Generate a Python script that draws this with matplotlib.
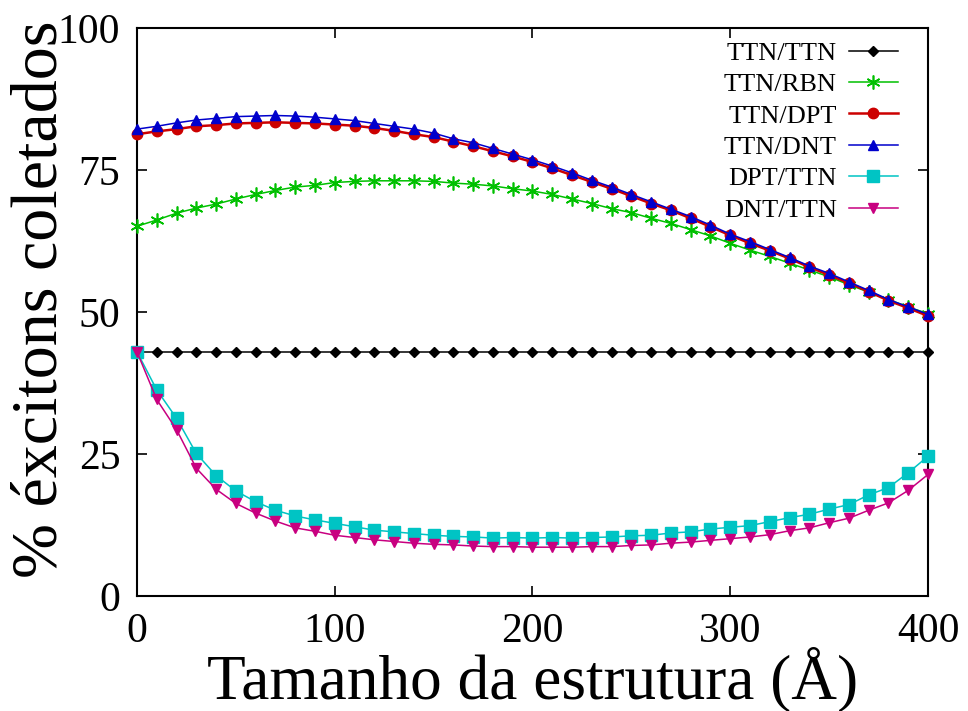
import matplotlib
matplotlib.use("Agg")
import matplotlib.pyplot as plt

# tamanho da estrutura (angstrom)
tamanho = [0, 10, 20, 30, 40, 50, 60, 70, 80, 90, 100, 110, 120, 130, 140, 150, 160, 170, 180, 190, 200,
           210, 220, 230, 240, 250, 260, 270, 280, 290, 300, 310, 320, 330, 340, 350, 360, 370, 380, 390, 400]

ttn_ttn = [43.0, 43.0, 43.0, 43.0, 43.0, 43.0, 43.0, 43.0, 43.0, 43.0, 43.0, 43.0, 43.0, 43.0, 43.0, 43.0,
           43.0, 43.0, 43.0, 43.0, 43.0, 43.0, 43.0, 43.0, 43.0, 43.0, 43.0, 43.0, 43.0, 43.0, 43.0, 43.0,
           43.0, 43.0, 43.0, 43.0, 43.0, 43.0, 43.0, 43.0, 43.0]
ttn_rbn = [65.1, 66.2, 67.4, 68.3, 69.0, 69.9, 70.7, 71.4, 72.0, 72.3, 72.8, 73.0, 73.1, 73.1, 73.1, 73.0,
           72.7, 72.5, 72.2, 71.7, 71.3, 70.7, 69.9, 69.1, 68.2, 67.5, 66.5, 65.6, 64.5, 63.4, 62.1, 60.9,
           59.8, 58.6, 57.4, 56.2, 54.8, 53.5, 52.2, 50.9, 49.7]
ttn_dpt = [81.3, 81.8, 82.2, 82.7, 82.9, 83.2, 83.3, 83.4, 83.3, 83.2, 83.0, 82.8, 82.4, 81.9, 81.3, 80.8,
           80.0, 79.2, 78.3, 77.4, 76.4, 75.3, 74.1, 72.9, 71.7, 70.4, 69.1, 67.9, 66.5, 65.0, 63.5, 62.1,
           60.8, 59.4, 57.9, 56.5, 55.1, 53.6, 52.0, 50.7, 49.3]
ttn_dnt = [82.2, 82.7, 83.3, 83.8, 84.1, 84.4, 84.5, 84.6, 84.5, 84.3, 84.0, 83.7, 83.2, 82.7, 82.2, 81.5,
           80.5, 79.8, 78.8, 77.8, 76.8, 75.7, 74.5, 73.2, 72.0, 70.7, 69.4, 68.1, 66.8, 65.3, 63.7, 62.4,
           61.0, 59.6, 58.1, 56.8, 55.3, 53.8, 52.2, 50.9, 49.6]
dpt_ttn = [43.0, 36.3, 31.3, 25.1, 21.2, 18.5, 16.6, 15.1, 14.1, 13.4, 12.8, 12.2, 11.6, 11.3, 11.0, 10.7,
           10.5, 10.4, 10.2, 10.3, 10.2, 10.3, 10.2, 10.3, 10.4, 10.6, 10.7, 11.1, 11.3, 11.8, 12.1, 12.4,
           13.1, 13.8, 14.4, 15.3, 16.1, 17.8, 19.1, 21.7, 24.6]
dnt_ttn = [43.0, 34.6, 29.3, 22.5, 18.8, 16.3, 14.6, 13.2, 12.0, 11.4, 10.7, 10.3, 9.9, 9.6, 9.3, 9.1,
           9.0, 8.8, 8.7, 8.7, 8.6, 8.6, 8.6, 8.7, 8.7, 8.9, 9.0, 9.3, 9.5, 9.8, 10.1, 10.4,
           10.8, 11.5, 12.0, 12.9, 13.7, 15.1, 16.4, 18.6, 21.4]

plt.rcParams['font.family'] = ['Liberation Serif', 'DejaVu Serif']

fig = plt.figure(figsize=(9.68, 7.11), dpi=100)
ax = fig.add_axes([0.1415, 0.1617, 0.8172, 0.7989])

ax.plot(tamanho, ttn_ttn, color='black', lw=1.1, marker='D', ms=5.5, label='TTN/TTN', clip_on=False, zorder=3)
ax.plot(tamanho, ttn_rbn, color='#00c000', lw=1.1, marker=(6, 2, 0), ms=10, mew=1.2, label='TTN/RBN', clip_on=False, zorder=3)
ax.plot(tamanho, ttn_dpt, color='#cc0000', lw=1.8, marker='o', ms=7.5, label='TTN/DPT', clip_on=False, zorder=3)
ax.plot(tamanho, ttn_dnt, color='#0000cc', lw=1.1, marker='^', ms=7.5, label='TTN/DNT', clip_on=False, zorder=3)
ax.plot(tamanho, dpt_ttn, color='#00c4c4', lw=1.1, marker='s', ms=8, label='DPT/TTN', clip_on=False, zorder=3)
ax.plot(tamanho, dnt_ttn, color='#c80080', lw=1.1, marker='v', ms=7.5, label='DNT/TTN', clip_on=False, zorder=3)

ax.set_xlim(0, 400)
ax.set_ylim(0, 100)
ax.set_xticks([0, 100, 200, 300, 400])
ax.set_yticks([0, 25, 50, 75, 100])
ax.tick_params(direction='in', length=7, width=1.2, labelsize=30, pad=12,
               top=True, right=True, colors='black')
for s in ax.spines.values():
    s.set_linewidth(1.5)

ax.set_xlabel('Tamanho da estrutura (Å)', fontsize=45.5, va='baseline')
ax.xaxis.set_label_coords(0.5, -0.1796)
ax.set_ylabel('% éxcitons coletados', fontsize=47.5, rotation_mode='anchor',
              ha='center', va='baseline')
ax.yaxis.set_label_coords(-0.1011, 0.522)

leg = ax.legend(loc='upper right', frameon=False, markerfirst=False, fontsize=19,
                handlelength=1.85, handletextpad=0.45, labelspacing=0.3,
                borderaxespad=0.3, bbox_to_anchor=(0.985, 1.009))

fig.savefig('out.png', dpi=100)
